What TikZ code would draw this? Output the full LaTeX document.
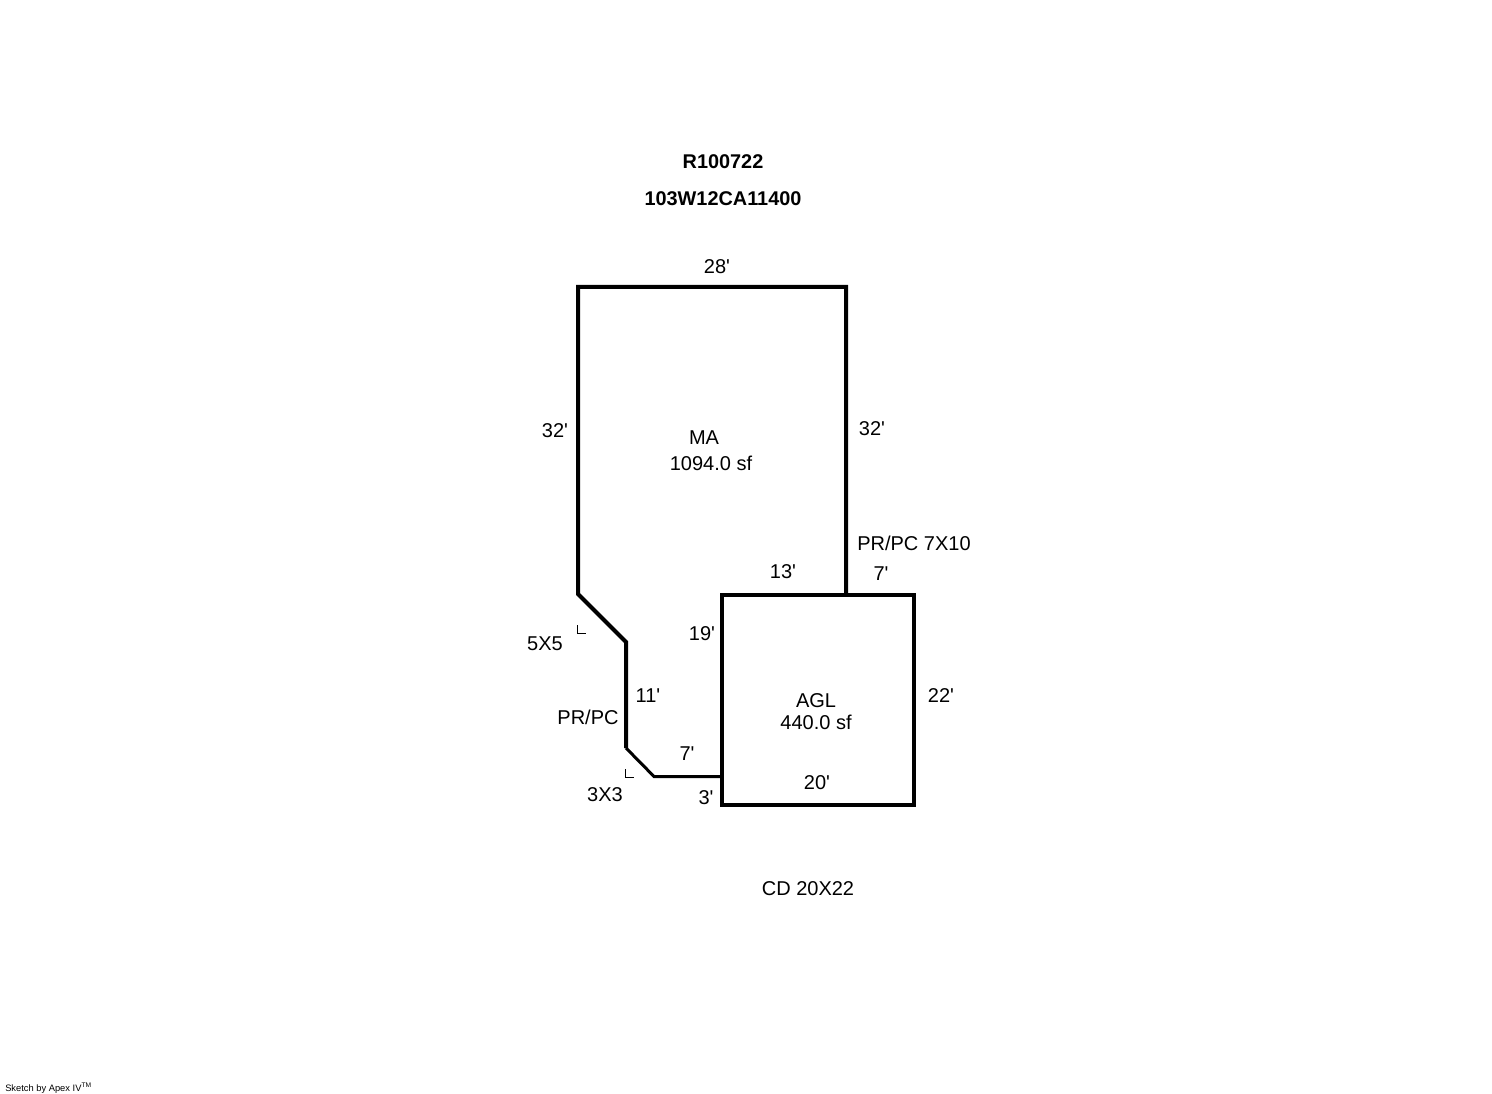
\documentclass[tikz,border=0pt]{standalone}
\usepackage{fontspec}
\setmainfont{Liberation Sans}
\newcommand{\ft}{\textquotesingle}
\tikzset{
  wall/.style={black, line width=3pt, line join=miter},
  thinwall/.style={black, line width=2.25pt, line join=miter},
  tick/.style={black, line width=0.75pt},
  lbl/.style={black, inner sep=0pt, font=\fontsize{15}{18}\selectfont},
  head/.style={black, inner sep=0pt, font=\fontsize{14.9}{17}\selectfont\bfseries},
  foot/.style={black, inner sep=0pt, font=\fontsize{7}{8}\selectfont}
}
\begin{document}
\begin{tikzpicture}[x=0.75pt, y=-0.75pt]
\useasboundingbox (0,0) rectangle (1492,1094);
% outline of the house
\draw[thinwall] (722,776.5)--(654,776.5)--(626,748);
\draw[wall] (626,748)--(626,642)--(578,594)--(578,287)--(846,287)--(846,595);
\draw[wall] (722,595)--(722,776);
% garage
\draw[wall] (722,595)--(914,595)--(914,805)--(722,805)--cycle;
% corner marks
\draw[tick] (577,625)--(577,633)--(586,633);
\draw[tick] (625,769)--(625,777)--(634,777);

\node[head] (parcel) at (723,162) {R100722};
\node[head] (mapno) at (723,199) {103W12CA11400};

\node[lbl] (top) at (717,267) {28\ft};
\node[lbl] (left) at (555,431) {32\ft};
\node[lbl] (right) at (872,429) {32\ft};
\node[lbl] (ma) at (704,438) {MA};
\node[lbl] (maarea) at (711,463) {1094.0 sf};
\node[lbl] (porch) at (914,543) {PR/PC 7X10};
\node[lbl] (seven) at (881,574) {7\ft};
\node[lbl] (thirteen) at (783,572) {13\ft};
\node[lbl] (nineteen) at (702,634) {19\ft};
\node[lbl] (chamfer) at (545,644) {5X5};
\node[lbl] (eleven) at (648,696) {11\ft};
\node[lbl] (porchb) at (588,717) {PR/PC};
\node[lbl] (sevenb) at (687,754) {7\ft};
\node[lbl] (chamferb) at (605,795) {3X3};
\node[lbl] (three) at (706,798) {3\ft};
\node[lbl] (agl) at (816,701) {AGL};
\node[lbl] (aglarea) at (816,722) {440.0 sf};
\node[lbl] (twentytwo) at (941,696) {22\ft};
\node[lbl] (twenty) at (817,783) {20\ft};
\node[lbl] (cd) at (808,889) {CD 20X22};
\node[foot, anchor=west] (sketch) at (5,1088) {Sketch by Apex IV\textsuperscript{TM}};
\end{tikzpicture}
\end{document}
